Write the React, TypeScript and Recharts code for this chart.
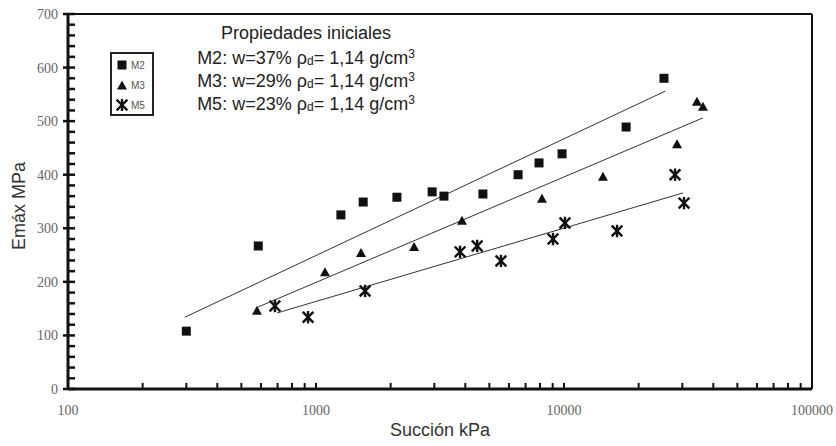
import React from "react";
import {
  ScatterChart,
  Scatter,
  XAxis,
  YAxis,
  ReferenceLine,
} from "recharts";

// Datos (succión kPa, Emáx MPa)
const m2Succion = [300, 585, 1260, 1550, 2120, 2940, 3280, 4710, 6530, 7930, 9820, 17800, 25300];
const m2Emax = [108, 267, 325, 349, 358, 368, 360, 364, 400, 422, 439, 489, 580];

const m3Succion = [578, 1087, 1519, 2486, 3879, 8150, 14360, 28560, 34360, 36330];
const m3Emax = [146, 218, 254, 265, 314, 355, 396, 457, 536, 527];

const m5Succion = [683, 929, 1577, 3809, 4466, 5570, 9030, 10090, 16360, 28040, 30480];
const m5Emax = [155, 134, 183, 256, 267, 239, 280, 310, 295, 400, 347];

// líneas de tendencia (extremos)
const m2TrendSuccion = [296, 25600];
const m2TrendEmax = [134, 556];
const m3TrendSuccion = [584, 36300];
const m3TrendEmax = [153, 506];
const m5TrendSuccion = [697, 30200];
const m5TrendEmax = [142, 366];

const xTicks = [
  100, 200, 300, 400, 500, 600, 700, 800, 900,
  1000, 2000, 3000, 4000, 5000, 6000, 7000, 8000, 9000,
  10000, 20000, 30000, 40000, 50000, 60000, 70000, 80000, 90000,
  100000,
];
const xLabels = [100, 1000, 10000, 100000];
const yMajorTicks = [0, 100, 200, 300, 400, 500, 600, 700];
const yMinorTicks = [
  0, 20, 40, 60, 80, 100, 120, 140, 160, 180, 200, 220, 240, 260, 280, 300,
  320, 340, 360, 380, 400, 420, 440, 460, 480, 500, 520, 540, 560, 580, 600,
  620, 640, 660, 680, 700,
];

const toPoints = (xs: number[], ys: number[]) => xs.map((x, i) => ({ x, y: ys[i] }));

const M2 = toPoints(m2Succion, m2Emax);
const M3 = toPoints(m3Succion, m3Emax);
const M5 = toPoints(m5Succion, m5Emax);
const T2 = toPoints(m2TrendSuccion, m2TrendEmax);
const T3 = toPoints(m3TrendSuccion, m3TrendEmax);
const T5 = toPoints(m5TrendSuccion, m5TrendEmax);

const INK = "#111";
const TICK_FONT = "'Liberation Serif', 'DejaVu Serif', serif";
const SANS = "'Liberation Sans', Arial, sans-serif";

// geometría del área de trazado (márgenes del gráfico)
const W = 836;
const H = 446;
const PLOT_LEFT = 68;
const PLOT_TOP = 14;
const X_AXIS_H = 57;
const PLOT_H = H - PLOT_TOP - X_AXIS_H;
const Y_MAX = 700;

const Square = ({ cx, cy }: any) => (
  <rect x={cx - 4.5} y={cy - 4.5} width={9} height={9} fill={INK} />
);

const Triangle = ({ cx, cy }: any) => (
  <polygon
    points={`${cx},${cy - 5} ${cx + 5},${cy + 4} ${cx - 5},${cy + 4}`}
    fill={INK}
  />
);

const Asterisk = ({ cx, cy }: any) => (
  <g stroke={INK} strokeWidth={2.4} strokeLinecap="square">
    <line x1={cx - 4.5} y1={cy - 4.5} x2={cx + 4.5} y2={cy + 4.5} />
    <line x1={cx - 4.5} y1={cy + 4.5} x2={cx + 4.5} y2={cy - 4.5} />
    <line x1={cx} y1={cy - 5} x2={cx} y2={cy + 5} />
  </g>
);

const Empty = () => <g />;

const XTick = ({ x, y, payload }: any) => {
  const v = payload.value;
  const label = xLabels.includes(v);
  const edge = v === 100 || v === 100000;
  return (
    <g>
      {!edge && (
        <path d={`M${x},${y}V${y - 6}`} stroke={INK} strokeWidth={2} fill="none" />
      )}
      {label && (
        <text
          x={x}
          y={y + 26}
          textAnchor="middle"
          fontFamily={TICK_FONT}
          fontSize={14}
          fill="#666"
        >
          {v}
        </text>
      )}
    </g>
  );
};

// marcas del eje Y dibujadas en una capa aparte
const YTickMarks = () => (
  <svg
    width={W}
    height={H}
    style={{ position: "absolute", left: 0, top: 0, pointerEvents: "none" }}
  >
    {yMinorTicks.map((v) => {
      const y = PLOT_TOP + (1 - v / Y_MAX) * PLOT_H;
      const major = v % 100 === 0;
      return (
        <line
          key={v}
          x1={major ? PLOT_LEFT - 5 : PLOT_LEFT}
          x2={PLOT_LEFT + 7}
          y1={y}
          y2={y}
          stroke={INK}
          strokeWidth={2.5}
        />
      );
    })}
  </svg>
);

const LegendIcon = ({ kind }: { kind: string }) => (
  <svg width={12} height={12} style={{ marginRight: 3 }}>
    {kind === "square" && <Square cx={6} cy={6} />}
    {kind === "triangle" && <Triangle cx={6} cy={6.5} />}
    {kind === "star" && <Asterisk cx={6} cy={6} />}
  </svg>
);

const lineStyle: React.CSSProperties = {
  position: "absolute",
  left: 156,
  width: 300,
  textAlign: "center",
  fontFamily: SANS,
  fontSize: 18,
  color: "#222",
  lineHeight: "20px",
  height: 20,
  whiteSpace: "nowrap",
};

const Props = ({ m, w }: { m: string; w: string }) => (
  <span>
    {m}: w={w}% ρ
    <span style={{ fontSize: 12, verticalAlign: "-1px", lineHeight: 0 }}>d</span>= 1,14 g/cm
    <span style={{ fontSize: 12, verticalAlign: "6px", lineHeight: 0 }}>3</span>
  </span>
);

export default function App() {
  return (
    <div
      style={{
        position: "absolute",
        left: 0,
        top: 0,
        width: W,
        height: H,
        background: "#fff",
      }}
    >
      <ScatterChart
        width={W}
        height={H}
        margin={{ top: PLOT_TOP, right: 24, bottom: 0, left: 0 }}
      >
        <XAxis
          type="number"
          dataKey="x"
          scale="log"
          domain={[100, 100000]}
          ticks={xTicks}
          interval={0}
          allowDataOverflow
          height={X_AXIS_H}
          tickSize={0}
          tickMargin={0}
          tick={<XTick />}
          axisLine={{ stroke: INK, strokeWidth: 3 }}
          tickLine={false}
        />
        <YAxis
          type="number"
          dataKey="y"
          domain={[0, Y_MAX]}
          ticks={yMajorTicks}
          interval={0}
          width={PLOT_LEFT}
          tickSize={5}
          tickMargin={5}
          tick={{ fill: "#666", fontFamily: TICK_FONT, fontSize: 14 }}
          axisLine={{ stroke: INK, strokeWidth: 3 }}
          tickLine={false}
        />
        <ReferenceLine y={700} stroke={INK} strokeWidth={2} />
        <ReferenceLine x={100000} stroke={INK} strokeWidth={2} />
        <Scatter data={T2} line={{ stroke: "#333", strokeWidth: 1 }} shape={<Empty />} isAnimationActive={false} />
        <Scatter data={T3} line={{ stroke: "#333", strokeWidth: 1 }} shape={<Empty />} isAnimationActive={false} />
        <Scatter data={T5} line={{ stroke: "#333", strokeWidth: 1 }} shape={<Empty />} isAnimationActive={false} />
        <Scatter name="M2" data={M2} shape={<Square />} isAnimationActive={false} />
        <Scatter name="M3" data={M3} shape={<Triangle />} isAnimationActive={false} />
        <Scatter name="M5" data={M5} shape={<Asterisk />} isAnimationActive={false} />
      </ScatterChart>

      <YTickMarks />

      {/* leyenda */}
      <div
        style={{
          position: "absolute",
          left: 110,
          top: 52,
          width: 36,
          height: 59,
          border: "2px solid #222",
          padding: "1px 0 0 4px",
          fontFamily: SANS,
          fontSize: 10,
          color: "#555",
        }}
      >
        {[
          ["square", "M2"],
          ["triangle", "M3"],
          ["star", "M5"],
        ].map(([k, n]) => (
          <div key={n} style={{ display: "flex", alignItems: "center", height: 20 }}>
            <LegendIcon kind={k} />
            {n}
          </div>
        ))}
      </div>

      {/* propiedades iniciales */}
      <div style={{ ...lineStyle, top: 23 }}>Propiedades iniciales</div>
      <div style={{ ...lineStyle, top: 48 }}>
        <Props m="M2" w="37" />
      </div>
      <div style={{ ...lineStyle, top: 71 }}>
        <Props m="M3" w="29" />
      </div>
      <div style={{ ...lineStyle, top: 94 }}>
        <Props m="M5" w="23" />
      </div>

      {/* títulos de ejes */}
      <div
        style={{
          position: "absolute",
          left: 19,
          top: 206,
          transform: "translate(-50%, -50%) rotate(-90deg)",
          fontFamily: SANS,
          fontSize: 18,
          color: "#333",
          whiteSpace: "nowrap",
        }}
      >
        Emáx MPa
      </div>
      <div
        style={{
          position: "absolute",
          left: 440,
          top: 430,
          transform: "translate(-50%, -50%)",
          fontFamily: SANS,
          fontSize: 18,
          color: "#333",
          whiteSpace: "nowrap",
        }}
      >
        Succión kPa
      </div>
    </div>
  );
}
